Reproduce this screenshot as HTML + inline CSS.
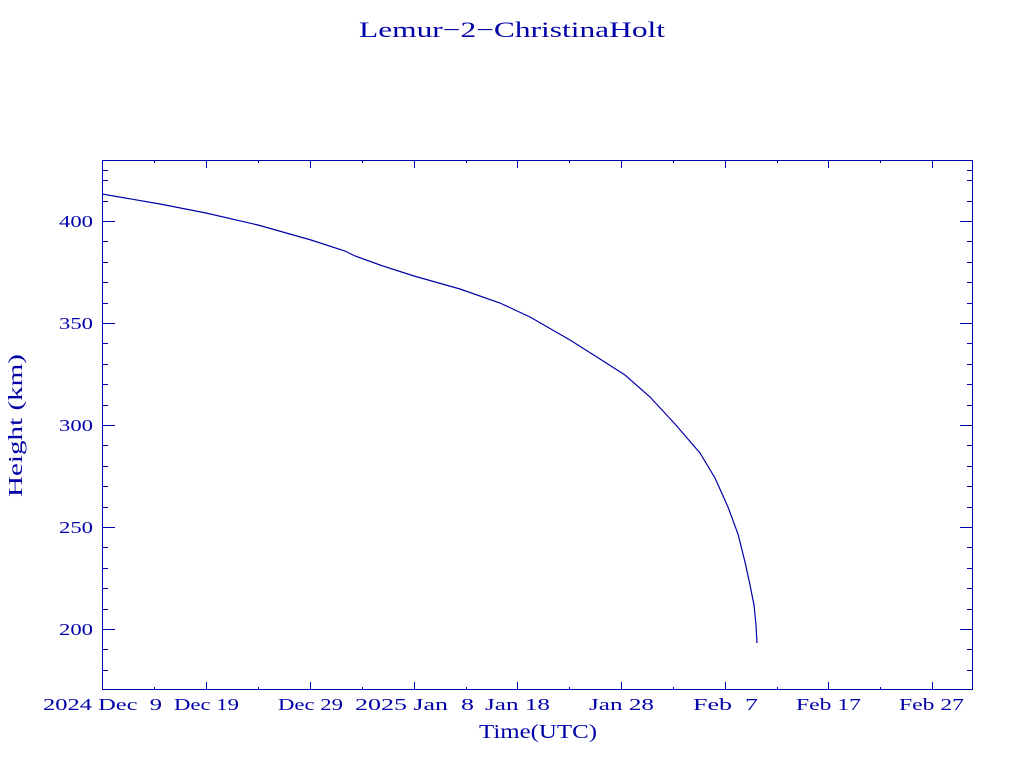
<!DOCTYPE html>
<html><head><meta charset="utf-8"><style>body{margin:0;background:#fff}svg{display:block}</style></head><body>
<svg width="1024" height="768" xmlns="http://www.w3.org/2000/svg" font-family="Liberation Serif, serif" fill="#0000a8">
<text x="359" y="37" font-size="22" textLength="306" lengthAdjust="spacingAndGlyphs">Lemur−2−ChristinaHolt</text>
<rect x="102.5" y="160.5" width="870" height="529" fill="none" stroke="#0000a8" stroke-width="1"/>
<g stroke="#0000a8" stroke-width="1">
<path d="M102 221.5h13M102 323.5h13M102 425.5h13M102 527.5h13M102 629.5h13M973 221.5h-13M973 323.5h-13M973 425.5h-13M973 527.5h-13M973 629.5h-13"/>
<path d="M102 170.5h6M102 180.5h6M102 201.5h6M102 241.5h6M102 262.5h6M102 282.5h6M102 303.5h6M102 343.5h6M102 364.5h6M102 384.5h6M102 405.5h6M102 445.5h6M102 466.5h6M102 486.5h6M102 507.5h6M102 547.5h6M102 568.5h6M102 588.5h6M102 609.5h6M102 649.5h6M102 670.5h6"/>
<path d="M973 170.5h-6M973 180.5h-6M973 201.5h-6M973 241.5h-6M973 262.5h-6M973 282.5h-6M973 303.5h-6M973 343.5h-6M973 364.5h-6M973 384.5h-6M973 405.5h-6M973 445.5h-6M973 466.5h-6M973 486.5h-6M973 507.5h-6M973 547.5h-6M973 568.5h-6M973 588.5h-6M973 609.5h-6M973 649.5h-6M973 670.5h-6"/>
<path d="M206.5 690v-8M310.5 690v-8M414.5 690v-8M517.5 690v-8M621.5 690v-8M725.5 690v-8M828.5 690v-8M932.5 690v-8M206.5 160v8M310.5 160v8M414.5 160v8M517.5 160v8M621.5 160v8M725.5 160v8M828.5 160v8M932.5 160v8"/>
<path d="M154.5 690v-3M258.5 690v-3M362.5 690v-3M466.5 690v-3M569.5 690v-3M673.5 690v-3M777.5 690v-3M880.5 690v-3M154.5 160v3M258.5 160v3M362.5 160v3M466.5 160v3M569.5 160v3M673.5 160v3M777.5 160v3M880.5 160v3"/>
</g>
<g font-size="17">
<text x="59" y="227" textLength="34" lengthAdjust="spacingAndGlyphs">400</text>
<text x="59" y="329" textLength="34" lengthAdjust="spacingAndGlyphs">350</text>
<text x="59" y="431" textLength="34" lengthAdjust="spacingAndGlyphs">300</text>
<text x="59" y="533" textLength="34" lengthAdjust="spacingAndGlyphs">250</text>
<text x="59" y="635" textLength="34" lengthAdjust="spacingAndGlyphs">200</text>
</g>
<g font-size="17">
<text x="43" y="710" textLength="119" lengthAdjust="spacingAndGlyphs" xml:space="preserve">2024 Dec  9</text>
<text x="174" y="710" textLength="65" lengthAdjust="spacingAndGlyphs">Dec 19</text>
<text x="278" y="710" textLength="65" lengthAdjust="spacingAndGlyphs">Dec 29</text>
<text x="355" y="710" textLength="119" lengthAdjust="spacingAndGlyphs" xml:space="preserve">2025 Jan  8</text>
<text x="485" y="710" textLength="65" lengthAdjust="spacingAndGlyphs">Jan 18</text>
<text x="589" y="710" textLength="65" lengthAdjust="spacingAndGlyphs">Jan 28</text>
<text x="693" y="710" textLength="65" lengthAdjust="spacingAndGlyphs" xml:space="preserve">Feb  7</text>
<text x="796" y="710" textLength="65" lengthAdjust="spacingAndGlyphs">Feb 17</text>
<text x="899" y="710" textLength="65" lengthAdjust="spacingAndGlyphs">Feb 27</text>
</g>
<text x="479" y="738" font-size="20" textLength="118" lengthAdjust="spacingAndGlyphs">Time(UTC)</text>
<text transform="translate(22,497) rotate(-90)" font-size="20" textLength="143" lengthAdjust="spacingAndGlyphs">Height (km)</text>
<polyline fill="none" stroke="#0000a8" stroke-width="1.2" points="102,194 160,204 206,213 258,225 311,240 345,251 355,256 380,265 414,276 460,289 500,303 530,317 570,340 600,359 625,375 650,397 675,424 700,453 715,478 728,507 738,534 745,562 750,585 754,605 756,625 757,643"/>
</svg>
</body></html>
